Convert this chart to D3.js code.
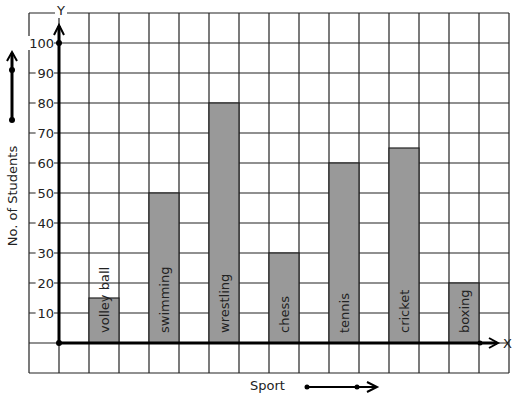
<!DOCTYPE html>
<html>
<head>
<meta charset="utf-8">
<script src="https://cdn.jsdelivr.net/npm/d3@7"></script>
<style>
  body { margin: 0; background: #fff; }
  text { font-family: "DejaVu Sans", sans-serif; fill: #222; }
</style>
</head>
<body>
<svg width="517" height="399"></svg>
<script>
// data
var sports = ["volley ball", "swimming", "wrestling", "chess", "tennis", "cricket", "boxing"];
var students = [15, 50, 80, 30, 60, 65, 20];
var yTicks = [10, 20, 30, 40, 50, 60, 70, 80, 90, 100];

var svg = d3.select("svg");

// grid: 16 columns, 12 rows of 30px
var col = d3.scaleLinear().domain([0, 16]).range([29, 509]);
var y = d3.scaleLinear().domain([-10, 110]).range([373, 13]);
var x = d3.scaleBand().domain(sports).range([89, 509])
    .paddingInner(0.5).paddingOuter(0.25).align(0);

var grid = svg.append("g").attr("stroke", "#222").attr("stroke-width", 1.2);
grid.selectAll(".v").data(d3.range(17)).enter().append("line")
    .attr("x1", function(d) { return col(d); })
    .attr("x2", function(d) { return col(d); })
    .attr("y1", y(110)).attr("y2", y(-10));
grid.selectAll(".h").data(d3.range(-10, 111, 10)).enter().append("line")
    .attr("x1", col(0)).attr("x2", col(16))
    .attr("y1", function(d) { return y(d); })
    .attr("y2", function(d) { return y(d); });

// bars
svg.selectAll(".bar").data(sports).enter().append("rect")
    .attr("x", function(d) { return x(d); })
    .attr("y", function(d, i) { return y(students[i]); })
    .attr("width", x.bandwidth())
    .attr("height", function(d, i) { return y(0) - y(students[i]); })
    .attr("fill", "#999")
    .attr("stroke", "#222").attr("stroke-width", 1.2);

// labels in bars
svg.selectAll(".lbl").data(sports).enter().append("text")
    .attr("transform", function(d) {
      return "translate(" + (x(d) + x.bandwidth() / 2 + 5) + "," + (y(0) - 10) + ") rotate(-90)";
    })
    .style("font-size", "13px")
    .text(function(d) { return d; });

// y tick labels with white background
var tk = svg.append("g");
yTicks.forEach(function(t) {
  var lbl = String(t);
  var w = lbl.length * 8.2 + 2;
  tk.append("rect").attr("x", 54 - w).attr("y", y(t) - 7).attr("width", w).attr("height", 14).attr("fill", "#fff");
  tk.append("text").attr("x", 54).attr("y", y(t) + 5).attr("text-anchor", "end")
    .style("font-size", "13px").text(lbl);
});

// axes
var ax = svg.append("g").attr("stroke", "#000").attr("fill", "none").attr("stroke-width", 3);
ax.append("line").attr("x1", col(1)).attr("x2", col(1)).attr("y1", y(0)).attr("y2", 26);
ax.append("path").attr("stroke-width", 2).attr("d", "M54,35 L59,25 L64,35");
ax.append("line").attr("x1", col(1)).attr("x2", 497).attr("y1", y(0)).attr("y2", y(0));
ax.append("path").attr("stroke-width", 2).attr("d", "M489,338 L498,343 L489,348");
svg.append("circle").attr("cx", col(1)).attr("cy", y(0)).attr("r", 3).attr("fill", "#000");
svg.append("circle").attr("cx", col(1)).attr("cy", y(100)).attr("r", 3).attr("fill", "#000");
svg.append("circle").attr("cx", 480).attr("cy", y(0)).attr("r", 2.5).attr("fill", "#000");

// axis letters
svg.append("rect").attr("x", 55).attr("y", 6).attr("width", 12).attr("height", 12).attr("fill", "#fff");
svg.append("text").attr("x", 61).attr("y", 15).attr("text-anchor", "middle").style("font-size", "13px").text("Y");
svg.append("text").attr("x", 503).attr("y", 348).style("font-size", "13px").text("X");

// y title and arrow
svg.append("text")
    .attr("transform", "translate(17,196) rotate(-90)")
    .attr("text-anchor", "middle").style("font-size", "13px")
    .text("No. of Students");
var la = svg.append("g").attr("stroke", "#000").attr("fill", "none");
la.append("line").attr("x1", 12).attr("x2", 12).attr("y1", 120).attr("y2", 53).attr("stroke-width", 3);
la.append("path").attr("stroke-width", 2).attr("d", "M7,61 L12,52 L17,61");
svg.append("circle").attr("cx", 12).attr("cy", 120).attr("r", 3).attr("fill", "#000");
svg.append("circle").attr("cx", 12).attr("cy", 70).attr("r", 3).attr("fill", "#000");

// x title and arrow
svg.append("text").attr("x", 250).attr("y", 390).style("font-size", "13px").text("Sport");
var ba = svg.append("g").attr("stroke", "#000").attr("fill", "none");
ba.append("line").attr("x1", 307).attr("x2", 376).attr("y1", 387).attr("y2", 387).attr("stroke-width", 2);
ba.append("path").attr("stroke-width", 2).attr("d", "M367,382 L377,387 L367,392");
svg.append("circle").attr("cx", 307).attr("cy", 387).attr("r", 2.5).attr("fill", "#000");
svg.append("circle").attr("cx", 357).attr("cy", 387).attr("r", 2.5).attr("fill", "#000");
</script>
</body>
</html>
